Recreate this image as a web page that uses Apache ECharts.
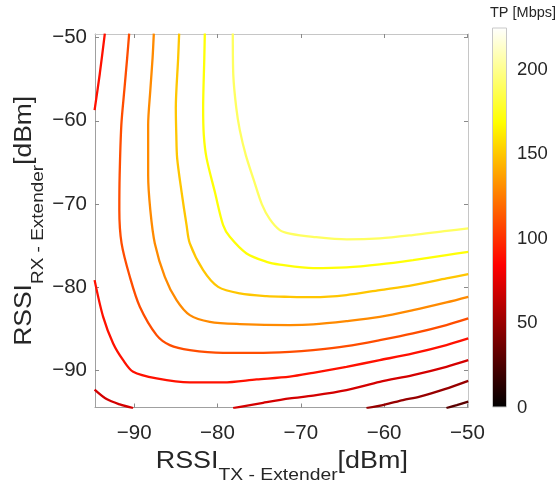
<!DOCTYPE html>
<html>
<head>
<meta charset="utf-8">
<script src="https://cdn.jsdelivr.net/npm/echarts@6/dist/echarts.min.js"></script>
<style>
  html, body { margin: 0; padding: 0; background: #fff; }
  #chart { width: 560px; height: 486px; }
</style>
</head>
<body>
<div id="chart"></div>
<script>
// Throughput (TP) contour map over the two extender link RSSIs, in dBm.

const xTicks = [-90, -80, -70, -60, -50];
const yTicks = [-90, -80, -70, -60, -50];
const cbTicks = [0, 50, 100, 150, 200];
const tpMax = 225;

// contour level of each segment below, Mbps
const levels = [190, 170, 150, 130, 110, 90, 90, 70, 70, 50, 30];

// one array of [RSSI_TX, RSSI_RX] points per contour segment
const tp190 = [[-78.16,-49.5],[-78.10,-54.50],[-77.74,-58.47],[-77.32,-61.12],[-76.60,-64.13],[-75.64,-67.14],[-74.68,-70.02],[-73.72,-71.83],[-72.52,-73.15],[-71.32,-73.57],[-68.56,-73.96],[-64.48,-74.27],[-60.52,-74.15],[-56.56,-73.75],[-52.48,-73.24],[-49.9,-72.95]];
const tp170 = [[-81.52,-49.5],[-81.58,-52.45],[-81.72,-58.47],[-81.64,-61.72],[-81.31,-64.49],[-80.32,-68.54],[-79.32,-72.55],[-78.52,-73.96],[-76.51,-75.96],[-74.11,-76.97],[-72.52,-77.30],[-68.52,-77.73],[-64.52,-77.64],[-60.52,-77.28],[-56.53,-76.76],[-52.52,-76.16],[-49.9,-75.76]];
const tp150 = [[-84.60,-49.5],[-84.72,-52.45],[-85.00,-58.47],[-84.94,-61.72],[-84.84,-64.49],[-84.31,-68.54],[-83.71,-72.55],[-83.32,-74.75],[-81.72,-77.97],[-79.92,-79.98],[-77.32,-80.77],[-74.11,-81.10],[-71.32,-81.18],[-68.52,-81.22],[-64.52,-80.97],[-60.52,-80.37],[-56.53,-79.77],[-52.52,-78.97],[-49.9,-78.45]];
const tp130 = [[-87.64,-49.5],[-87.79,-52.45],[-88.06,-56.31],[-88.32,-60.52],[-88.32,-66.53],[-88.06,-70.75],[-87.52,-74.75],[-86.32,-78.77],[-84.91,-81.58],[-83.32,-83.38],[-80.92,-84.19],[-77.32,-84.46],[-71.32,-84.58],[-68.52,-84.50],[-64.52,-84.10],[-60.52,-83.59],[-56.53,-82.78],[-52.52,-81.85],[-49.9,-81.18]];
const tp110 = [[-90.60,-49.5],[-90.84,-52.45],[-91.18,-56.31],[-91.54,-60.52],[-91.74,-66.53],[-91.78,-70.75],[-91.51,-74.75],[-90.52,-78.77],[-89.32,-82.38],[-87.31,-85.79],[-85.72,-86.99],[-83.32,-87.59],[-79.32,-87.92],[-75.31,-87.92],[-71.32,-87.80],[-68.52,-87.59],[-64.52,-87.11],[-60.52,-86.39],[-56.53,-85.58],[-52.52,-84.58],[-49.9,-83.78]];
const tp90Upper = [[-93.52,-49.5],[-94.12,-54.30],[-94.75,-58.71]];
const tp90Lower = [[-94.75,-79.17],[-93.72,-83.59],[-92.52,-86.79],[-91.32,-88.80],[-90.12,-90.20],[-87.31,-91.00],[-83.32,-91.48],[-79.32,-91.48],[-75.31,-91.12],[-71.32,-90.78],[-68.52,-90.32],[-64.52,-89.60],[-60.52,-88.80],[-56.53,-87.99],[-52.52,-86.99],[-49.9,-86.19]];
const tp70Corner = [[-94.75,-92.35],[-93.31,-93.49],[-91.72,-94.13],[-90.12,-94.58]];
const tp70 = [[-78.12,-94.58],[-74.52,-93.94],[-71.32,-93.41],[-68.52,-93.07],[-64.52,-92.41],[-60.52,-91.41],[-56.53,-90.60],[-52.52,-89.60],[-49.9,-88.80]];
const tp50 = [[-62.12,-94.58],[-59.92,-94.15],[-57.73,-93.61],[-55.72,-93.19],[-52.72,-92.29],[-49.9,-91.29]];
const tp30 = [[-52.52,-94.58],[-51.28,-94.21],[-49.9,-93.79]];

const segments = [tp190, tp170, tp150, tp130, tp110, tp90Upper, tp90Lower, tp70Corner, tp70, tp50, tp30];

const X_MIN = -94.7, X_MAX = -49.93;
const Y_MIN = -94.5, Y_MAX = -49.55;

const FONT = '"Liberation Sans", Arial, Helvetica, sans-serif';
const TXT = '#262626';

// "hot" colour map: black -> red -> yellow -> white
function hot(v) {
  const t = Math.max(0, Math.min(1, v / tpMax));
  const c = (a) => Math.round(255 * Math.max(0, Math.min(1, a)));
  return 'rgb(' + c(t / 0.375) + ',' + c((t - 0.375) / 0.375) + ',' + c((t - 0.75) / 0.25) + ')';
}

// negative tick values are written with a true minus sign
const minusFmt = (v) => String(v).replace('-', '\u2212');

const chart = echarts.init(document.getElementById('chart'), null, { renderer: 'canvas' });

const contourSeries = segments.map((pts, i) => ({
  type: 'line',
  name: levels[i] + ' Mbps',
  xAxisIndex: 0,
  yAxisIndex: 0,
  data: pts,
  showSymbol: false,
  smooth: 0.3,
  clip: true,
  silent: true,
  lineStyle: { width: 2.3, color: hot(levels[i]) },
  z: 3
}));

const boxAxis = (color) => ({
  axisLine: { show: true, lineStyle: { color: color, width: 1 } },
  splitLine: { show: false }
});

// axis titles with subscripts, RSSI_{TX - Extender} [dBm]
const titleRich = {
  m: { fontSize: 23, fontFamily: FONT, fill: TXT, verticalAlign: 'top' },
  s: { fontSize: 16.5, fontFamily: FONT, fill: TXT, verticalAlign: 'top', padding: [16.8, 0, 0, 0] }
};

const option = {
  animation: false,
  backgroundColor: '#ffffff',
  title: {
    text: 'TP [Mbps]',
    left: 490,
    top: 5,
    padding: 0,
    textStyle: { fontFamily: FONT, fontSize: 14.5, fontWeight: 'normal', color: TXT }
  },
  graphic: [
    {
      type: 'text', x: 281.8, y: 449.8, scaleX: 1.17, silent: true,
      style: { text: '{m|RSSI}{s|TX - Extender}{m|[dBm]}', align: 'center', verticalAlign: 'top', fill: TXT, rich: titleRich }
    },
    {
      type: 'text', x: 13.5, y: 220.8, rotation: Math.PI / 2, scaleX: 1.15, silent: true,
      style: { text: '{m|RSSI}{s|RX - Extender}{m|[dBm]}', align: 'center', verticalAlign: 'top', fill: TXT, rich: titleRich }
    }
  ],
  grid: [
    { left: 95, top: 34, width: 373, height: 373.5 },
    { left: 492, top: 27.5, width: 15, height: 380 }
  ],
  xAxis: [
    Object.assign({
      gridIndex: 0, type: 'value', min: X_MIN, max: X_MAX, position: 'bottom',
      axisTick: { inside: true, length: 4, customValues: xTicks, lineStyle: { color: '#8a8a8a' } },
      axisLabel: { customValues: xTicks, formatter: minusFmt, margin: 15, fontSize: 20.5, color: TXT, fontFamily: FONT }
    }, boxAxis('#a0a0a0')),
    Object.assign({
      gridIndex: 0, type: 'value', min: X_MIN, max: X_MAX, position: 'top',
      axisTick: { inside: true, length: 4, customValues: xTicks, lineStyle: { color: '#8a8a8a' } },
      axisLabel: { show: false }
    }, boxAxis('#c6c6c6')),
    { gridIndex: 1, type: 'category', data: ['TP'], show: false }
  ],
  yAxis: [
    Object.assign({
      gridIndex: 0, type: 'value', min: Y_MIN, max: Y_MAX, position: 'left',
      axisTick: { inside: true, length: 4, customValues: yTicks, lineStyle: { color: '#8a8a8a' } },
      axisLabel: { customValues: yTicks, formatter: minusFmt, margin: 8, padding: [14, 0, 0, 0], fontSize: 20.5, color: TXT, fontFamily: FONT }
    }, boxAxis('#a0a0a0')),
    Object.assign({
      gridIndex: 0, type: 'value', min: Y_MIN, max: Y_MAX, position: 'right',
      axisTick: { inside: true, length: 4, customValues: yTicks, lineStyle: { color: '#8a8a8a' } },
      axisLabel: { show: false }
    }, boxAxis('#c6c6c6')),
    {
      gridIndex: 1, type: 'value', min: 0, max: tpMax, position: 'right', z: 5,
      axisLine: { show: false },
      splitLine: { show: false },
      axisTick: { inside: true, length: 3, customValues: cbTicks, lineStyle: { color: '#8a8a8a' } },
      axisLabel: { customValues: cbTicks, margin: 10, fontSize: 18.5, color: TXT, fontFamily: FONT }
    }
  ],
  series: contourSeries.concat([{
    type: 'bar',
    name: 'colour scale',
    xAxisIndex: 2,
    yAxisIndex: 2,
    data: [tpMax],
    barWidth: '100%',
    silent: true,
    itemStyle: {
      borderColor: '#c8c8c8',
      borderWidth: 1,
      color: new echarts.graphic.LinearGradient(0, 1, 0, 0, [
        { offset: 0, color: '#000000' },
        { offset: 0.375, color: '#ff0000' },
        { offset: 0.75, color: '#ffff00' },
        { offset: 1, color: '#ffffff' }
      ])
    }
  }])
};

chart.setOption(option);
</script>
</body>
</html>
